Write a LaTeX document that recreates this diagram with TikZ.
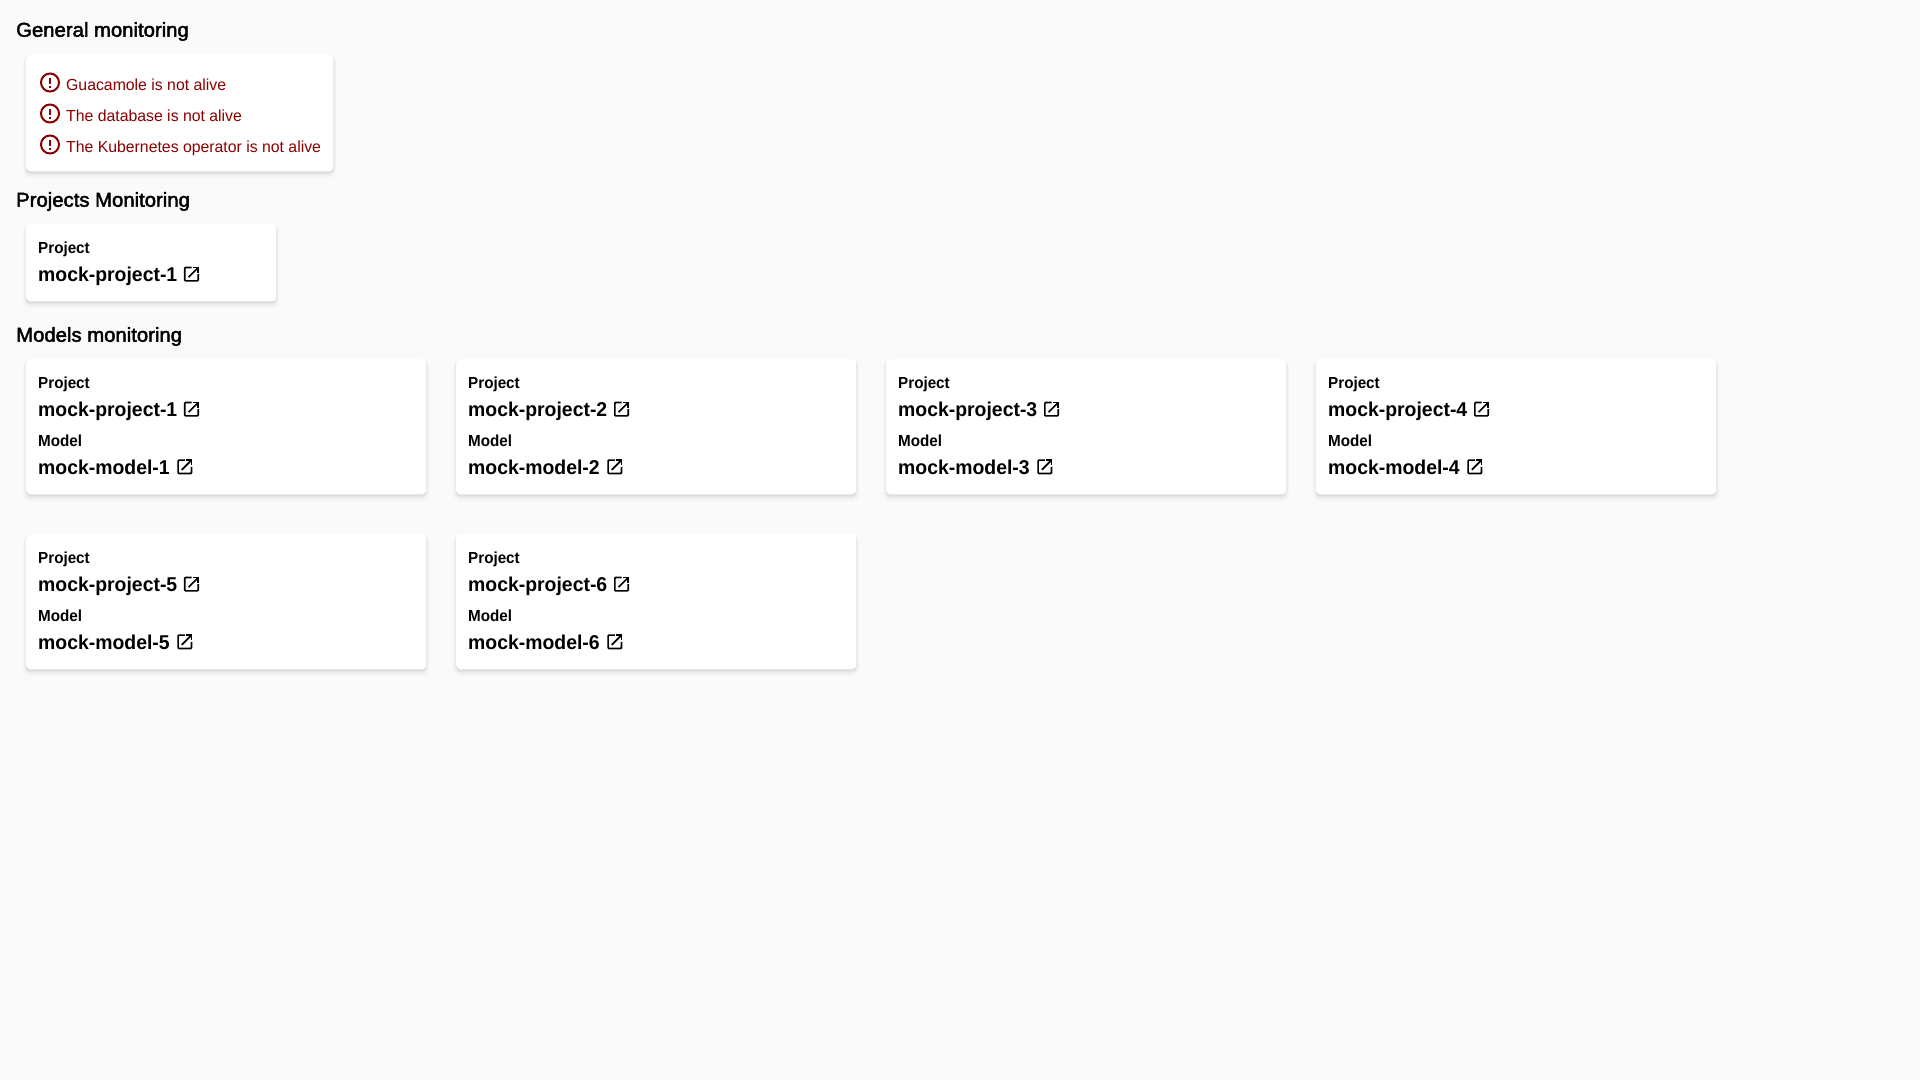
\documentclass[tikz,border=0pt]{standalone}
\usepackage{fontspec}
\setmainfont{Liberation Sans}
\newfontfamily\headfont[FakeBold=2.2, FakeStretch=1.015]{Liberation Sans}
\newfontfamily\labelfont[FakeStretch=0.95]{Liberation Sans}
\newfontfamily\valuefont[FakeStretch=0.97]{Liberation Sans}
\newfontfamily\alertfont[FakeStretch=0.988]{Liberation Sans}
\usetikzlibrary{shadows}
\definecolor{pagebg}{HTML}{FAFAFA}
\definecolor{alertred}{HTML}{8B0000}
\tikzset{
	softshadow/.style={drop shadow={shadow xshift=0pt, shadow yshift=-#1, fill=black, draw=black, line width=1.6*#1, opacity=0.015}},
	card/.style={rectangle, fill=white, rounded corners=4pt, anchor=north west, inner sep=0pt,
		softshadow=1pt, softshadow=2pt, softshadow=3pt, softshadow=4pt},
	heading/.style={anchor=base west, inner sep=0pt, font=\headfont\fontsize{20}{24}\selectfont},
	fieldlabel/.style={anchor=base west, inner sep=0pt, font=\labelfont\bfseries\fontsize{16}{20}\selectfont},
	fieldvalue/.style={anchor=base west, inner sep=0pt, font=\valuefont\bfseries\fontsize{20}{24}\selectfont},
	alerttext/.style={anchor=base west, inner sep=0pt, text=alertred, font=\alertfont\fontsize{16}{20}\selectfont},
	pics/extlink/.style={code={
		\draw[line width=1.67pt, rounded corners=0.8pt] (10,3.33) -- (3.33,3.33) -- (3.33,16.67) -- (16.67,16.67) -- (16.67,10);
		\draw[line width=1.67pt] (7,13) -- (16.67,3.33);
		\draw[line width=1.67pt] (11.67,3.33) -- (16.67,3.33) -- (16.67,8.33);
	}},
	pics/alerticon/.style={code={
		\draw[alertred, line width=2pt] (0,0) circle (9pt);
		\draw[alertred, line width=2pt] (0,-5) -- (0,1);
		\draw[alertred, line width=2pt] (0,3) -- (0,5);
	}}
}
\begin{document}
\begin{tikzpicture}[x=1pt, y=-1pt]
	\useasboundingbox[fill=pagebg] (0,0) rectangle (1920,1080);

	\node [heading] (general) at (16,36.7) {General monitoring};
	\node [card, minimum width=307pt, minimum height=117pt] (alerts) at (26,54) {};
	\pic at (50,82.5) {alerticon};
	\pic at (50,113.5) {alerticon};
	\pic at (50,144.5) {alerticon};
	\node [alerttext] (alert1) at (66,90) {Guacamole is not alive};
	\node [alerttext] (alert2) at (66,121) {The database is not alive};
	\node [alerttext] (alert3) at (66,152) {The Kubernetes operator is not alive};

	\node [heading] (projects) at (16,206.7) {Projects Monitoring};
	\node [card, minimum width=250pt, minimum height=77pt] (pcard) at (26,224) {};
	\node [fieldlabel, xshift=12pt, yshift=-29pt] (plabel) at (pcard.north west) {Project};
	\node [fieldvalue, xshift=12pt, yshift=-57.6pt] (pvalue) at (pcard.north west) {mock-project-1};
	\pic [xshift=155.5pt, yshift=-40.2pt] at (pcard.north west) {extlink};

	\node [heading] (models) at (16,341.7) {Models monitoring};
	\foreach \i/\x/\y in {1/26/359, 2/456/359, 3/886/359, 4/1316/359, 5/26/534, 6/456/534} {
		\node [card, minimum width=400pt, minimum height=135pt] (mcard\i) at (\x,\y) {};
		\node [fieldlabel, xshift=12pt, yshift=-29pt] (mlabela\i) at (mcard\i.north west) {Project};
		\node [fieldvalue, xshift=12pt, yshift=-57.6pt] (mvaluea\i) at (mcard\i.north west) {mock-project-\i};
		\pic [xshift=155.5pt, yshift=-40.2pt] at (mcard\i.north west) {extlink};
		\node [fieldlabel, xshift=12pt, yshift=-87pt] (mlabelb\i) at (mcard\i.north west) {Model};
		\node [fieldvalue, xshift=12pt, yshift=-115.6pt] (mvalueb\i) at (mcard\i.north west) {mock-model-\i};
		\pic [xshift=148.8pt, yshift=-97.8pt] at (mcard\i.north west) {extlink};
	}
\end{tikzpicture}
\end{document}
